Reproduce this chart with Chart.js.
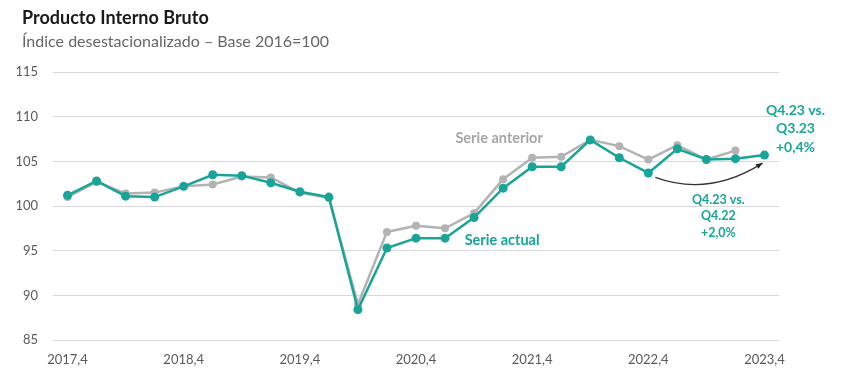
<!DOCTYPE html>
<html>
<head>
<meta charset="utf-8">
<script src="https://cdn.jsdelivr.net/npm/chart.js@4.4.1/dist/chart.umd.min.js"></script>
<style>
  html, body { margin: 0; padding: 0; background: #fff; }
  #wrap { width: 848px; height: 374px; position: relative; }
</style>
</head>
<body>
<div id="wrap"><canvas id="chart"></canvas></div>
<script>
Chart.defaults.font.family = "Lato, 'Open Sans', sans-serif";
Chart.defaults.color = "#595959";

const quarters = [
  "2017,4",
  "2018,1", "2018,2", "2018,3", "2018,4",
  "2019,1", "2019,2", "2019,3", "2019,4",
  "2020,1", "2020,2", "2020,3", "2020,4",
  "2021,1", "2021,2", "2021,3", "2021,4",
  "2022,1", "2022,2", "2022,3", "2022,4",
  "2023,1", "2023,2", "2023,3", "2023,4",
];

const serieActual = [
  101.2,
  102.8, 101.1, 101.0, 102.2,
  103.5, 103.4, 102.6, 101.6,
  101.0, 88.4, 95.3, 96.4,
  96.4, 98.7, 102.0, 104.4,
  104.4, 107.4, 105.4, 103.7,
  106.4, 105.2, 105.3, 105.7,
];

const serieAnterior = [
  101.0,
  102.7, 101.4, 101.5, 102.2,
  102.4, 103.3, 103.2, 101.5,
  100.9, 89.0, 97.1, 97.8,
  97.5, 99.2, 103.0, 105.4,
  105.5, 107.4, 106.7, 105.2,
  106.8, 105.2, 106.2, null,
];

const yTicks = [85, 90, 95, 100, 105, 110, 115];

const TEAL = "#18a597";
const GREY = "#b3b3b3";

const labelsPlugin = {
  id: "labels",
  afterDraw(chart) {
    const ctx = chart.ctx;
    const xs = chart.scales.x;
    const ys = chart.scales.y;
    ctx.save();

    // titles
    ctx.textAlign = "left";
    ctx.textBaseline = "alphabetic";
    ctx.fillStyle = "#1a1a1a";
    ctx.font = "bold 18px Lato, sans-serif";
    ctx.fillText("Producto Interno Bruto", 22, 24);
    ctx.fillStyle = "#666";
    ctx.font = "16px Lato, sans-serif";
    ctx.fillText("Índice desestacionalizado – Base 2016=100", 22, 47);

    // series labels
    ctx.textAlign = "center";
    ctx.textBaseline = "middle";
    ctx.font = "bold 14.5px Lato, sans-serif";
    ctx.fillStyle = "#a6a6a6";
    ctx.fillText("Serie anterior", xs.getPixelForValue(15) - 4, ys.getPixelForValue(107.6));
    ctx.fillStyle = TEAL;
    ctx.fillText("Serie actual", xs.getPixelForValue(15) - 1, ys.getPixelForValue(96.2));

    // quarter-on-quarter note
    ctx.font = "bold 14px Lato, sans-serif";
    const qx = xs.getPixelForValue(24) + 31;
    ctx.fillText("Q4.23 vs.", qx, ys.getPixelForValue(110.7));
    ctx.fillText("Q3.23", qx, ys.getPixelForValue(108.7));
    ctx.fillText("+0,4%", qx, ys.getPixelForValue(106.6));

    // year-on-year note
    ctx.font = "bold 12.5px Lato, sans-serif";
    const yx = xs.getPixelForValue(22) + 12;
    ctx.fillText("Q4.23 vs.", yx, ys.getPixelForValue(100.7));
    ctx.fillText("Q4.22", yx, ys.getPixelForValue(98.9));
    ctx.fillText("+2,0%", yx, ys.getPixelForValue(97.0));

    // curved arrow Q4.22 -> Q4.23
    const x0 = xs.getPixelForValue(20) + 7, y0 = ys.getPixelForValue(103.2);
    const x1 = xs.getPixelForValue(24) - 2, y1 = ys.getPixelForValue(104.8);
    const cx = (x0 + x1) / 2, cy = ys.getPixelForValue(101.0);
    ctx.strokeStyle = "#333";
    ctx.lineWidth = 1.2;
    ctx.beginPath();
    ctx.moveTo(x0, y0);
    ctx.quadraticCurveTo(cx, cy, x1, y1);
    ctx.stroke();
    const ang = Math.atan2(y1 - cy, x1 - cx);
    ctx.fillStyle = "#222";
    ctx.beginPath();
    ctx.moveTo(x1, y1);
    ctx.lineTo(x1 - 7 * Math.cos(ang - 0.4), y1 - 7 * Math.sin(ang - 0.4));
    ctx.lineTo(x1 - 7 * Math.cos(ang + 0.4), y1 - 7 * Math.sin(ang + 0.4));
    ctx.closePath();
    ctx.fill();

    ctx.restore();
  },
};

const bgPlugin = {
  id: "bg",
  beforeDraw(chart) {
    const ctx = chart.ctx;
    ctx.save();
    ctx.fillStyle = "#fff";
    ctx.fillRect(0, 0, chart.width, chart.height);
    ctx.restore();
  },
};

new Chart(document.getElementById("chart").getContext("2d"), {
  type: "line",
  data: {
    labels: quarters,
    datasets: [
      {
        label: "Serie actual",
        data: serieActual,
        borderColor: TEAL,
        backgroundColor: TEAL,
        pointBackgroundColor: TEAL,
        borderWidth: 2.5,
        pointRadius: 4.5,
        pointBorderWidth: 0,
        tension: 0,
      },
      {
        label: "Serie anterior",
        data: serieAnterior,
        borderColor: GREY,
        backgroundColor: GREY,
        pointBackgroundColor: GREY,
        borderWidth: 2.5,
        pointRadius: 4,
        pointBorderWidth: 0,
        tension: 0,
        spanGaps: false,
      },
    ],
  },
  options: {
    responsive: true,
    maintainAspectRatio: false,
    animation: false,
    layout: { padding: { left: 0, right: 69, top: 72, bottom: 0 } },
    scales: {
      x: {
        type: "category",
        offset: true,
        grid: { display: false, drawTicks: false },
        border: { display: false },
        ticks: {
          autoSkip: false,
          maxRotation: 0,
          padding: 12,
          font: { size: 13 },
          callback: function (value, index) {
            return index % 4 === 0 ? this.getLabelForValue(value) : "";
          },
        },
        afterFit: (scale) => { scale.height = 34; },
      },
      y: {
        min: 85,
        max: 115,
        afterBuildTicks: (scale) => {
          scale.ticks = yTicks.map((v) => ({ value: v }));
        },
        grid: { color: "#d9d9d9", lineWidth: 1, drawTicks: false },
        border: { display: false },
        ticks: { padding: 15, font: { size: 13 } },
        afterFit: (scale) => { scale.width = 53; },
      },
    },
    plugins: {
      legend: { display: false },
      tooltip: { enabled: false },
    },
  },
  plugins: [bgPlugin, labelsPlugin],
});
</script>
</body>
</html>
